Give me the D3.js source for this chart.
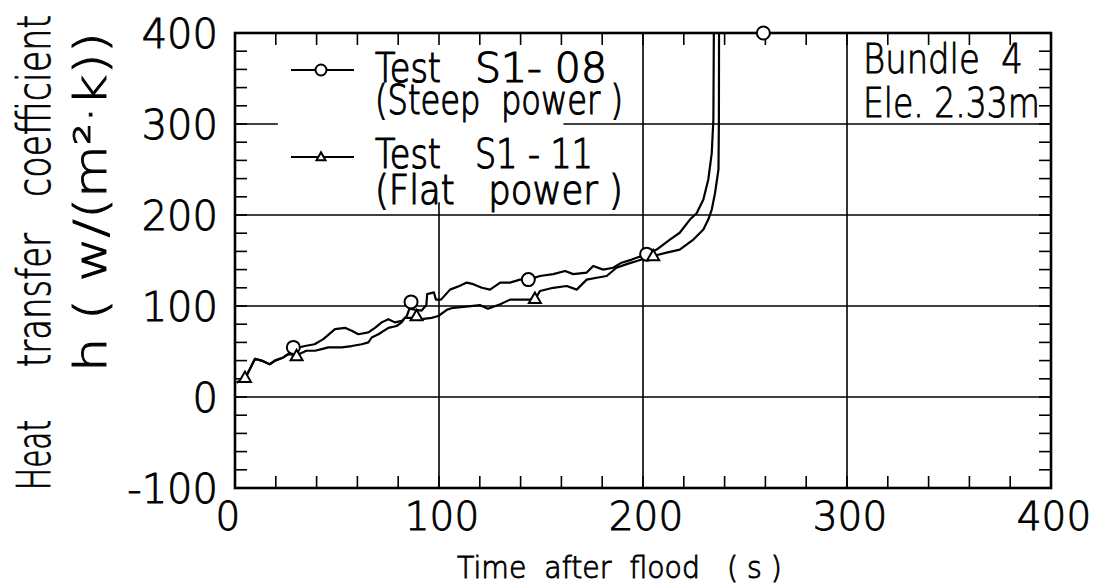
<!DOCTYPE html>
<html>
<head>
<meta charset="utf-8">
<script src="https://cdn.jsdelivr.net/npm/d3@7"></script>
<style>
  html, body { margin: 0; padding: 0; background: #fff; }
  svg { display: block; }
  text { font-family: "DejaVu Sans", sans-serif; fill: #000; font-weight: 200; stroke: #000; stroke-width: 0.9px; }
</style>
</head>
<body>
<svg id="chart" width="1094" height="584"></svg>
<script>
// ---- data ----
// Test S1-08 (Steep power) : time (s), h (W/(m2K))
const steepT = [0.8, 4.9, 9.8, 13, 17, 19.6, 23.7, 26, 28.6, 34.3, 39, 43.3, 49, 53.9, 57.2, 60.5, 65.4, 68.6, 71.9, 75.2, 78.4, 81.7, 84.2, 85.5, 88, 91.5, 93.8, 94.2, 97.5, 98.5, 101, 105.4, 110, 113.6, 116.8, 121, 125, 130, 134.8, 139.7, 143.8, 149.5, 156, 161.8, 165.8, 172.4, 175.6, 180.5, 185.4, 189.5, 194.5, 201.8, 206.7, 213.2, 218, 223, 226.3, 229.6, 232, 233.7, 234.5, 234.8];
const steepH = [16, 20, 42, 40, 36, 40, 43.5, 47, 53, 56, 58, 63.6, 74.5, 76, 72.7, 69, 71, 76, 82, 85.5, 82, 83.6, 89, 97, 96, 95, 101, 113, 115, 107, 107, 118, 122, 125.7, 124, 120, 118, 125.7, 125.7, 129, 129, 133, 135, 138.4, 135, 136.7, 144, 140, 142, 147.6, 151, 157, 162, 173, 180.5, 195, 202, 217, 239, 268, 305, 430];
// Test S1-11 (Flat power)
const flatT = [0.8, 4.9, 9.8, 13, 17, 19.6, 23.7, 26, 30.2, 35, 39.2, 42.5, 45.7, 52.3, 57.2, 62.1, 65.4, 67, 70.3, 75.2, 79.2, 81.7, 83.3, 89, 91.5, 96.4, 99.7, 104, 107, 113.3, 120, 124, 130, 134.8, 141, 147, 149.5, 156, 162.6, 167.5, 172.4, 177.3, 182.2, 187, 192, 197, 205, 211.6, 218, 224.7, 229.6, 232, 233.7, 235.3, 237, 237.2, 237.3];
const flatH = [16, 20, 42, 40, 36, 40, 43.5, 47, 46, 50.8, 50.8, 52.6, 54.5, 54.5, 56, 58, 60, 65.4, 69, 76, 78, 82, 87, 87, 85.5, 87, 89, 96, 98, 99.4, 101, 97, 102, 107, 107, 107, 116.5, 120, 122, 118, 129, 131, 133, 142, 146, 149.5, 155, 158.6, 162, 173, 184, 195, 206, 224, 250, 305, 430];
// marker positions
const steepMarkT = [28.6, 86.3, 143.8, 201.8, 259];
const steepMarkH = [54.5, 104.5, 129, 157, 400];
const flatMarkT = [4.9, 30.2, 89, 147, 205];
const flatMarkH = [21, 45, 89, 108, 155];

// axes
const xTicks = [0, 100, 200, 300, 400];
const yTicks = [-100, 0, 100, 200, 300, 400];
const xMinor = d3.range(0, 401, 20);
const yMinor = d3.range(-100, 401, 20);
const hGrid = [0, 100, 200];
const vGrid = [200, 300];

const legendLabels = [["Test", "S1- 08", "(Steep  power )"], ["Test", "S1 - 11", "(Flat   power )"]];
const xTitle = "Time  after  flood   ( s )";
const yTitleWords = ["Heat", "transfer", "coefficient"];
const yTitle2 = "h ( w/(m²·k))";
const note1 = "Bundle  4";
const note2 = "Ele. 2.33m";

// ---- drawing ----
const svg = d3.select("#chart");
const x = d3.scaleLinear().domain([0, 400]).range([235, 1051]);
const y = d3.scaleLinear().domain([-100, 400]).range([488, 33]);
const [x0, x1] = x.range();
const [y0, y1] = y.range();

const g = svg.append("g");

// grid lines
g.selectAll(".hg").data(hGrid).join("line")
  .attr("x1", x0).attr("x2", x1)
  .attr("y1", d => y(d)).attr("y2", d => y(d))
  .attr("stroke", "#000").attr("stroke-width", 1.6);
g.selectAll(".vg").data(vGrid).join("line")
  .attr("x1", d => x(d)).attr("x2", d => x(d))
  .attr("y1", y0).attr("y2", y1)
  .attr("stroke", "#000").attr("stroke-width", 1.6);
// partial grid lines (interrupted by the legend)
g.append("line").attr("x1", x(100)).attr("x2", x(100)).attr("y1", y0).attr("y2", y(214))
  .attr("stroke", "#000").attr("stroke-width", 1.6);
g.append("line").attr("x1", x(0)).attr("x2", x(21)).attr("y1", y(300)).attr("y2", y(300))
  .attr("stroke", "#000").attr("stroke-width", 1.6);
g.append("line").attr("x1", x(161)).attr("x2", x1).attr("y1", y(300)).attr("y2", y(300))
  .attr("stroke", "#000").attr("stroke-width", 1.6);

// minor ticks (inward, all four sides)
const tl = 12;
g.selectAll(".tb").data(xMinor).join("line")
  .attr("x1", d => x(d)).attr("x2", d => x(d)).attr("y1", y0).attr("y2", y0 - tl)
  .attr("stroke", "#000").attr("stroke-width", 1.6);
g.selectAll(".tt").data(xMinor).join("line")
  .attr("x1", d => x(d)).attr("x2", d => x(d)).attr("y1", y1).attr("y2", y1 + tl)
  .attr("stroke", "#000").attr("stroke-width", 1.6);
g.selectAll(".tlft").data(yMinor).join("line")
  .attr("x1", x0).attr("x2", x0 + tl).attr("y1", d => y(d)).attr("y2", d => y(d))
  .attr("stroke", "#000").attr("stroke-width", 1.6);
g.selectAll(".trt").data(yMinor).join("line")
  .attr("x1", x1).attr("x2", x1 - tl).attr("y1", d => y(d)).attr("y2", d => y(d))
  .attr("stroke", "#000").attr("stroke-width", 1.6);

// frame
g.append("rect").attr("x", x0).attr("y", y1).attr("width", x1 - x0).attr("height", y0 - y1)
  .attr("fill", "none").attr("stroke", "#000").attr("stroke-width", 2.6);

// clip for curves
svg.append("clipPath").attr("id", "clip").append("rect")
  .attr("x", x0).attr("y", y1).attr("width", x1 - x0).attr("height", y0 - y1);

const line = d3.line().x(d => x(d[0])).y(d => y(d[1]));
const steep = steepT.map((t, i) => [t, steepH[i]]);
const flat = flatT.map((t, i) => [t, flatH[i]]);
const cg = g.append("g").attr("clip-path", "url(#clip)");
cg.append("path").attr("d", line(steep)).attr("fill", "none").attr("stroke", "#000")
  .attr("stroke-width", 2.2).attr("stroke-linejoin", "round");
cg.append("path").attr("d", line(flat)).attr("fill", "none").attr("stroke", "#000")
  .attr("stroke-width", 2.2).attr("stroke-linejoin", "round");

// markers
const tri = (cx, cy, s) => {
  const h = s * 0.87;
  return `M${cx},${cy - h * 0.6}L${cx + s / 2},${cy + h * 0.4}L${cx - s / 2},${cy + h * 0.4}Z`;
};
g.selectAll(".ms").data(steepMarkT.map((t, i) => [t, steepMarkH[i]])).join("circle")
  .attr("cx", d => x(d[0])).attr("cy", d => y(d[1])).attr("r", 6.5)
  .attr("fill", "#fff").attr("stroke", "#000").attr("stroke-width", 2);
g.selectAll(".mf").data(flatMarkT.map((t, i) => [t, flatMarkH[i]])).join("path")
  .attr("d", d => tri(x(d[0]), y(d[1]), 12))
  .attr("fill", "#fff").attr("stroke", "#000").attr("stroke-width", 2);

// text helper: fit a text to a given width by scaling along its direction
function fitText(parent, s, tx, ty, size, width, rot, sy) {
  const grp = parent.append("g");
  const t = grp.append("text").attr("font-size", size).style("white-space", "pre").text(s);
  const natural = t.node().getComputedTextLength();
  const sx = width / natural;
  grp.attr("transform", `translate(${tx},${ty})` + (rot ? ` rotate(${rot})` : "") + ` scale(${sx},${sy || 1})`);
  return t;
}

// tick labels
const fs = 40;
g.selectAll(".yl").data(yTicks).join("text")
  .attr("x", 218).attr("y", d => y(d) + fs * 0.365)
  .attr("text-anchor", "end").attr("font-size", fs)
  .text(d => d);
g.selectAll(".xl").data(xTicks).join("text")
  .attr("x", d => x(d) + (d === 0 ? -7 : 3)).attr("y", 530)
  .attr("text-anchor", "middle").attr("font-size", fs - 1)
  .text(d => d);

// axis titles
fitText(svg, xTitle, 457, 578, 30, 325, 0);
fitText(svg, yTitleWords[0], 50, 490, 46, 70, -90);
fitText(svg, yTitleWords[1], 50, 367, 46, 134, -90);
fitText(svg, yTitleWords[2], 50, 197, 46, 182, -90);
fitText(svg, yTitle2, 106, 372, 44, 340, -90);

// legend
const lg = svg.append("g");
const legY = [70, 157];
legY.forEach((ly) => {
  lg.append("line").attr("x1", 291).attr("x2", 354).attr("y1", ly).attr("y2", ly)
    .attr("stroke", "#000").attr("stroke-width", 2);
});
lg.append("circle").attr("cx", 321).attr("cy", legY[0]).attr("r", 5.5)
  .attr("fill", "#fff").attr("stroke", "#000").attr("stroke-width", 2);
lg.append("path").attr("d", tri(321, legY[1], 9))
  .attr("fill", "#fff").attr("stroke", "#000").attr("stroke-width", 2);

const lfs = 30, lsy = 1.36;
fitText(lg, legendLabels[0][0], 375, 82, lfs, 66, 0, lsy);
fitText(lg, legendLabels[0][1], 475, 82, lfs, 132, 0, lsy);
fitText(lg, legendLabels[0][2], 375, 114, lfs, 248, 0, lsy);
fitText(lg, legendLabels[1][0], 375, 168, lfs, 66, 0, lsy);
fitText(lg, legendLabels[1][1], 475, 168, lfs, 118, 0, lsy);
fitText(lg, legendLabels[1][2], 375, 204, lfs, 248, 0, lsy);

// notes
fitText(lg, note1, 863, 73, 40, 160, 0);
fitText(lg, note2, 863, 117, 40, 177, 0);
</script>
</body>
</html>
